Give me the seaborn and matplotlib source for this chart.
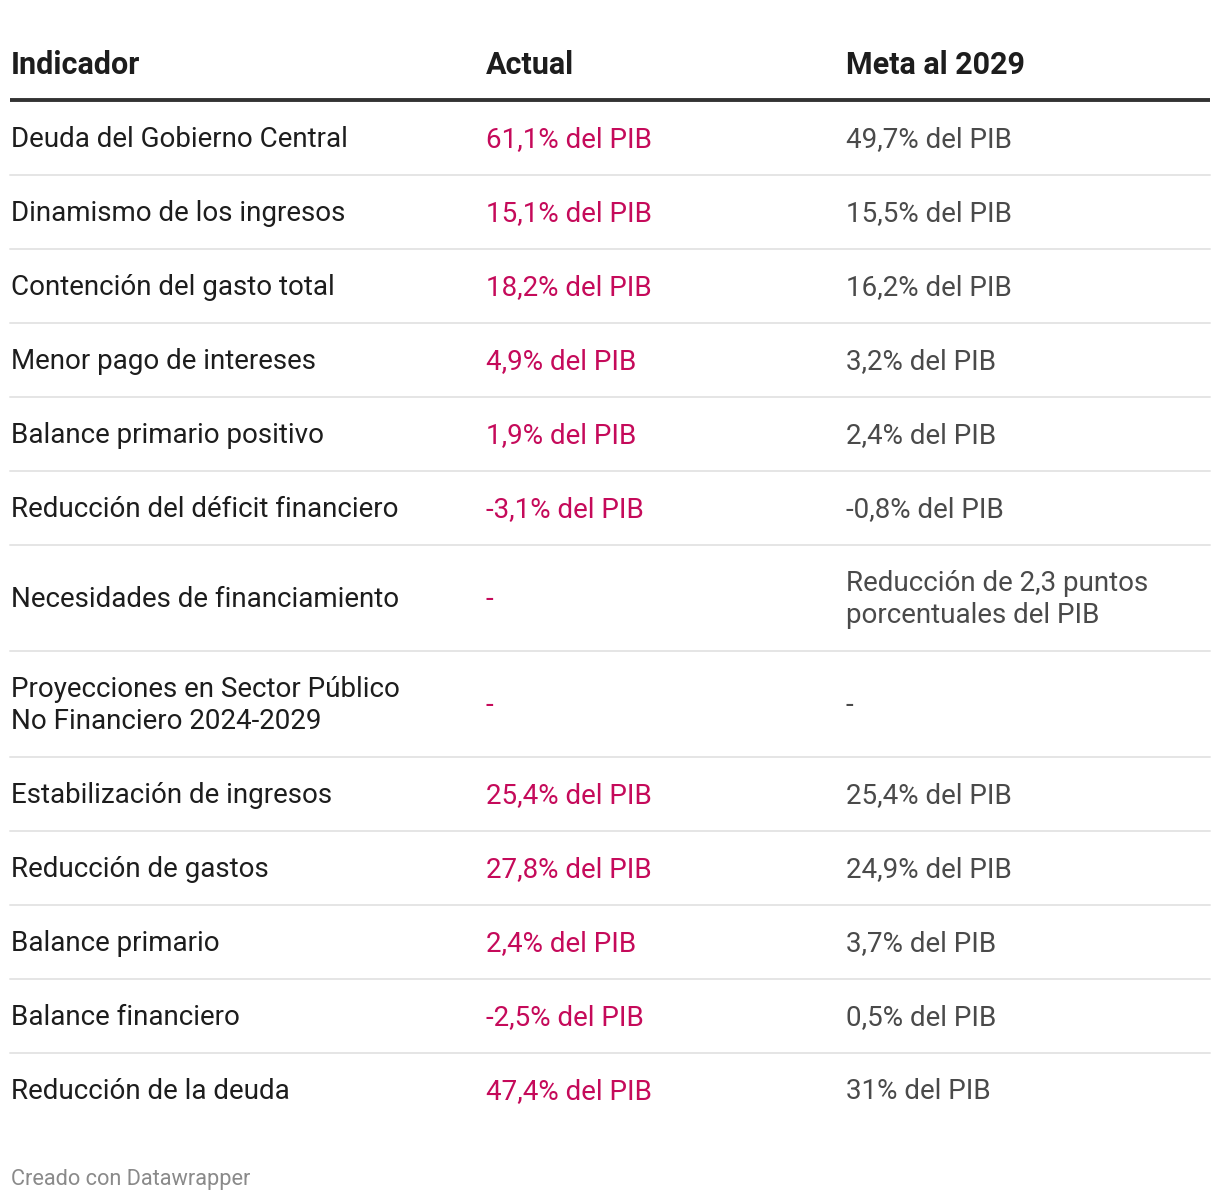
import matplotlib
matplotlib.use("Agg")
import matplotlib.pyplot as plt
import seaborn as sns

# -------------------- Data --------------------
headers = ["Indicador", "Actual", "Meta al 2029"]

indicadores = [
    "Deuda del Gobierno Central",
    "Dinamismo de los ingresos",
    "Contención del gasto total",
    "Menor pago de intereses",
    "Balance primario positivo",
    "Reducción del déficit financiero",
    "Necesidades de financiamiento",
    "Proyecciones en Sector Público\nNo Financiero 2024-2029",
    "Estabilización de ingresos",
    "Reducción de gastos",
    "Balance primario",
    "Balance financiero",
    "Reducción de la deuda",
]

actual = [
    "61,1% del PIB", "15,1% del PIB", "18,2% del PIB", "4,9% del PIB",
    "1,9% del PIB", "-3,1% del PIB", "-", "-",
    "25,4% del PIB", "27,8% del PIB", "2,4% del PIB", "-2,5% del PIB",
    "47,4% del PIB",
]

meta = [
    "49,7% del PIB", "15,5% del PIB", "16,2% del PIB", "3,2% del PIB",
    "2,4% del PIB", "-0,8% del PIB",
    "Reducción de 2,3 puntos\nporcentuales del PIB", "-",
    "25,4% del PIB", "24,9% del PIB", "3,7% del PIB", "0,5% del PIB",
    "31% del PIB",
]

footer = "Creado con Datawrapper"

# -------------------- Style --------------------
sns.set_theme(style="white")
plt.rcParams["font.family"] = ["Roboto", "DejaVu Sans"]

W, H = 1220, 1202
fig = plt.figure(figsize=(W / 100, H / 100), dpi=100)
ax = fig.add_axes([0, 0, 1, 1])
ax.set_xlim(0, W)
ax.set_ylim(H, 0)
ax.axis("off")

col_x = [11, 486, 846]
body_size = 20
dark = "#1d1d1d"
pink = "#c50a5a"
grey = "#4a4a4a"

# header
for x, h in zip(col_x, headers):
    ax.text(x, 65, h, fontsize=22, fontweight="bold", color=dark,
            va="center", ha="left")
ax.plot([10, 1210], [100, 100], color="#333333", lw=2.8, solid_capstyle="butt")

# rows
y = 101
for i, (ind, act, met) in enumerate(zip(indicadores, actual, meta)):
    n_lines = max(ind.count("\n"), met.count("\n")) + 1
    h = 74 if n_lines == 1 else 106
    yc = y + h / 2 + 1.5
    ax.text(col_x[0], yc, ind, fontsize=body_size, color=dark, va="center",
            ha="left", linespacing=1.27)
    ax.text(col_x[1], yc, act, fontsize=body_size, color=pink, va="center",
            ha="left", linespacing=1.27)
    ax.text(col_x[2], yc, met, fontsize=body_size, color=grey, va="center",
            ha="left", linespacing=1.27)
    y += h
    if i < len(indicadores) - 1:
        ax.plot([10, 1210], [y, y], color="#e5e5e5", lw=1.4)

ax.text(11, 1179, footer, fontsize=15.7, color="#8a8a8a", va="center", ha="left")

fig.savefig("out.png", dpi=100, facecolor="white")
